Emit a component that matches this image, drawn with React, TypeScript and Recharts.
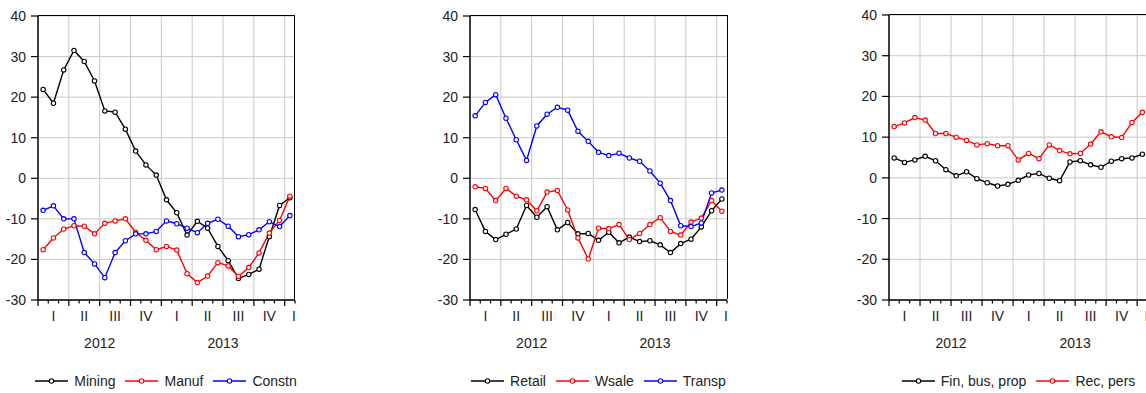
import React from 'react';
import { LineChart, Line, XAxis, YAxis, CartesianGrid } from 'recharts';

// Monthly observations, 2012M01 .. 2014M01
const MONTHS = [
  '2012M01', '2012M02', '2012M03', '2012M04', '2012M05', '2012M06',
  '2012M07', '2012M08', '2012M09', '2012M10', '2012M11', '2012M12',
  '2013M01', '2013M02', '2013M03', '2013M04', '2013M05', '2013M06',
  '2013M07', '2013M08', '2013M09', '2013M10', '2013M11', '2013M12',
  '2014M01',
];

const MINING = [21.9, 18.5, 26.7, 31.5, 28.8, 24.0, 16.6, 16.3, 12.1, 6.7, 3.3, 0.8, -5.3, -8.5, -14.0, -10.6, -12.3, -16.8, -20.3, -24.7, -23.7, -22.4, -14.4, -6.7, -4.8];
const MANUF = [-17.6, -14.7, -12.5, -11.7, -11.8, -13.7, -11.1, -10.5, -10.0, -13.3, -15.3, -17.6, -16.8, -17.7, -23.5, -25.7, -24.1, -20.8, -21.6, -24.2, -22.0, -18.4, -13.5, -10.4, -4.4];
const CONSTN = [-7.9, -6.8, -10.0, -10.0, -18.3, -21.1, -24.5, -18.3, -15.4, -13.7, -13.7, -13.1, -10.5, -11.2, -12.3, -13.4, -11.1, -10.1, -11.8, -14.4, -13.9, -12.7, -10.7, -11.9, -9.2];

const RETAIL = [-7.7, -13.1, -15.1, -13.8, -12.5, -6.7, -9.6, -7.0, -12.7, -10.9, -13.7, -13.6, -15.3, -13.3, -15.9, -14.5, -15.6, -15.4, -16.4, -18.3, -16.1, -15.0, -12.0, -8.0, -5.1];
const WSALE = [-2.1, -2.5, -5.5, -2.5, -4.4, -5.3, -8.0, -3.4, -3.0, -7.8, -14.7, -19.9, -12.3, -12.4, -11.4, -15.1, -13.6, -11.4, -9.7, -13.1, -14.0, -10.8, -9.8, -5.5, -8.1];
const TRANSP = [15.4, 18.7, 20.6, 14.8, 9.5, 4.4, 12.9, 15.8, 17.5, 16.8, 11.6, 9.1, 6.4, 5.6, 6.2, 5.0, 4.2, 1.8, -1.2, -5.5, -11.7, -11.9, -11.0, -3.6, -2.9];

const FIN_BUS_PROP = [4.9, 3.8, 4.4, 5.3, 4.2, 2.0, 0.5, 1.5, -0.2, -1.2, -2.0, -1.6, -0.6, 0.7, 1.1, -0.1, -0.7, 3.9, 4.2, 3.2, 2.6, 4.1, 4.7, 4.9, 5.8];
const REC_PERS = [12.6, 13.5, 14.8, 14.2, 10.9, 10.9, 10.0, 9.2, 8.1, 8.4, 7.9, 7.9, 4.4, 6.0, 4.7, 8.1, 6.7, 5.9, 6.0, 8.3, 11.3, 10.1, 9.9, 13.6, 16.1];

const Y_TICKS = [-30, -20, -10, 0, 10, 20, 30, 40];
const QUARTER_LABELS = ['I', 'II', 'III', 'IV', 'I', 'II', 'III', 'IV', 'I'];
const QUARTER_POS = [1.5, 4.5, 7.5, 10.5, 13.5, 16.5, 19.5, 22.5, 24.9];
const YEAR_LABELS = ['2012', '2013'];
const YEAR_POS = [6, 18];
const QUARTER_EDGES = [3, 6, 9, 12, 15, 18, 21, 24];

const FONT = '"Liberation Sans", Arial, sans-serif';
const TEXT = '#222';
const BLACK = '#000000';
const RED = '#ff0000';
const BLUE = '#0000ff';

// month boundaries 0..25 plus quarter label slots
const MONTH_EDGES = [...MONTHS.map((_, i) => i), MONTHS.length];
const X_TICKS = [...MONTH_EDGES, ...QUARTER_POS].sort((a, b) => a - b);

type Series = { key: string; name: string; values: number[]; color: string };
type Panel = { left: number; top: number; width: number; bottom: number; series: Series[] };

const PANELS: Panel[] = [
  {
    left: 37.5, top: 16, width: 257, bottom: 300,
    series: [
      { key: 'mining', name: 'Mining', values: MINING, color: BLACK },
      { key: 'manuf', name: 'Manuf', values: MANUF, color: RED },
      { key: 'constn', name: 'Constn', values: CONSTN, color: BLUE },
    ],
  },
  {
    left: 470, top: 16, width: 257, bottom: 300,
    series: [
      { key: 'retail', name: 'Retail', values: RETAIL, color: BLACK },
      { key: 'wsale', name: 'Wsale', values: WSALE, color: RED },
      { key: 'transp', name: 'Transp', values: TRANSP, color: BLUE },
    ],
  },
  {
    left: 889.3, top: 15, width: 258.5, bottom: 300,
    series: [
      { key: 'fin', name: 'Fin, bus, prop', values: FIN_BUS_PROP, color: BLACK },
      { key: 'rec', name: 'Rec, pers', values: REC_PERS, color: RED },
    ],
  },
];

const CHART_H = 393;
const YAXIS_W = 40;

// x axis: month tick marks, quarter numerals and year captions
const MonthTick = (props: any) => {
  const { x, y, payload } = props;
  const v = payload.value;
  const q = QUARTER_POS.indexOf(v);
  if (q >= 0) {
    return (
      <text x={x} y={y + 21} textAnchor="middle" fontSize={14} fontFamily={FONT} fill={TEXT}>
        {QUARTER_LABELS[q]}
      </text>
    );
  }
  const yr = YEAR_POS.indexOf(v);
  return (
    <g>
      <line x1={x} x2={x} y1={y} y2={y + (v % 3 === 0 ? 6 : 3.5)} stroke="#000" strokeWidth={1.2} />
      {yr >= 0 && (
        <text x={x} y={y + 48} textAnchor="middle" fontSize={14} fontFamily={FONT} fill={TEXT}>
          {YEAR_LABELS[yr]}
        </text>
      )}
    </g>
  );
};

const LegendRow: React.FC<{ panel: Panel }> = ({ panel }) => (
  <div
    style={{
      position: 'absolute',
      left: panel.left,
      width: panel.width,
      top: 372,
      height: 18,
      display: 'flex',
      justifyContent: 'center',
      alignItems: 'center',
      fontFamily: FONT,
      fontSize: 14,
      color: TEXT,
      whiteSpace: 'nowrap',
    }}
  >
    {panel.series.map((s, i) => (
      <div key={s.key} style={{ display: 'flex', alignItems: 'center', marginLeft: i === 0 ? 0 : 10 }}>
        <svg width={33} height={10}>
          <line x1={0} x2={33} y1={5} y2={5} stroke={s.color} strokeWidth={1.4} />
          <circle cx={16.5} cy={5} r={2.2} fill="#fff" stroke={s.color} strokeWidth={1.1} />
        </svg>
        <span style={{ marginLeft: 6, lineHeight: '18px' }}>{s.name}</span>
      </div>
    ))}
  </div>
);

// black box closing the plot area on top and right
const PlotFrame: React.FC<{ panel: Panel }> = ({ panel }) => (
  <div
    style={{
      position: 'absolute',
      left: panel.left,
      top: panel.top - 0.75,
      width: panel.width + 0.75,
      height: panel.bottom - panel.top,
      borderTop: '1.5px solid #000',
      borderRight: '1.5px solid #000',
      boxSizing: 'border-box',
      pointerEvents: 'none',
    }}
  />
);

const PanelChart: React.FC<{ panel: Panel }> = ({ panel }) => {
  const data = MONTHS.map((m, i) => {
    const row: Record<string, number | string> = { month: m, t: i + 0.5 };
    panel.series.forEach((s) => {
      row[s.key] = s.values[i];
    });
    return row;
  });
  const rightPad = 3;
  const chartW = YAXIS_W + panel.width + rightPad;

  return (
    <div style={{ position: 'absolute', left: panel.left - YAXIS_W, top: 0 }}>
      <LineChart
        width={chartW}
        height={CHART_H}
        data={data}
        margin={{ top: panel.top, right: rightPad, left: 0, bottom: 0 }}
      >
        <CartesianGrid stroke="#c8c8c8" strokeWidth={1} verticalValues={QUARTER_EDGES} />
        <XAxis
          dataKey="t"
          type="number"
          domain={[0, 25]}
          ticks={X_TICKS}
          interval={0}
          height={CHART_H - panel.bottom}
          tickSize={0}
          tickMargin={0}
          tickLine={false}
          tick={MonthTick}
          axisLine={{ stroke: '#000', strokeWidth: 1.5 }}
        />
        <YAxis
          type="number"
          domain={[-30, 40]}
          ticks={Y_TICKS}
          interval={0}
          width={YAXIS_W}
          tickSize={7}
          tickMargin={5}
          tickLine={{ stroke: '#000', strokeWidth: 1.2 }}
          axisLine={{ stroke: '#000', strokeWidth: 1.5 }}
          tick={{ fontSize: 14, fontFamily: FONT, fill: TEXT }}
        />
        {panel.series.map((s) => (
          <Line
            key={s.key}
            dataKey={s.key}
            name={s.name}
            type="linear"
            stroke={s.color}
            strokeWidth={1.4}
            dot={{ r: 2.2, fill: '#fff', stroke: s.color, strokeWidth: 1.1 }}
            activeDot={false}
            isAnimationActive={false}
          />
        ))}
      </LineChart>
    </div>
  );
};

export default function App() {
  return (
    <div
      style={{
        position: 'absolute',
        left: 0,
        top: 0,
        width: 1146,
        height: 393,
        overflow: 'hidden',
        background: '#fff',
      }}
    >
      {PANELS.map((p, i) => (
        <React.Fragment key={i}>
          <PanelChart panel={p} />
          <PlotFrame panel={p} />
          <LegendRow panel={p} />
        </React.Fragment>
      ))}
    </div>
  );
}
